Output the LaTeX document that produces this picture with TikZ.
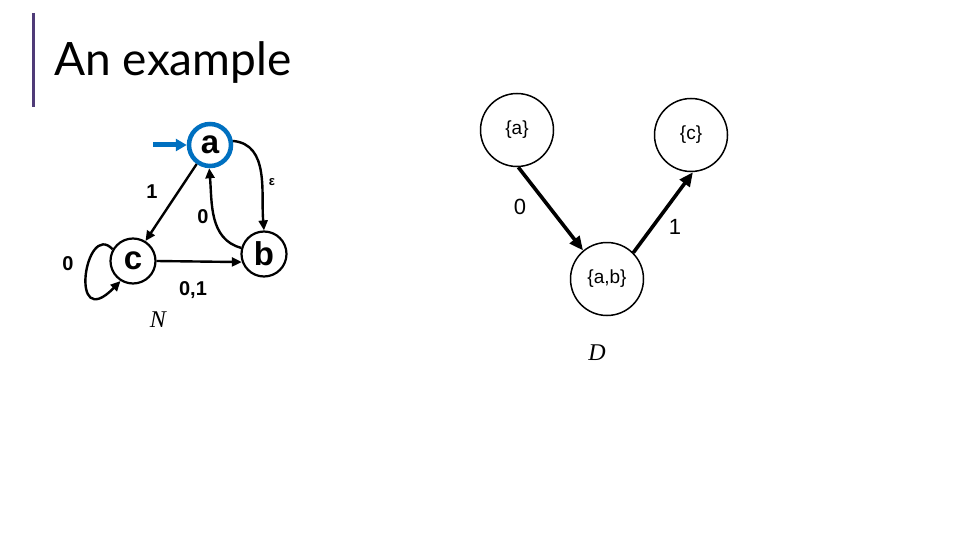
\documentclass[tikz,border=0pt]{standalone}
\usepackage{fontspec}
\setmainfont{Liberation Sans}
\newfontfamily\titlefont{Lato}
\newfontfamily\romanfont{Liberation Serif}
\usetikzlibrary{arrows.meta}
\definecolor{slidepurple}{RGB}{79,59,120}
\definecolor{startblue}{RGB}{0,112,192}
\tikzset{
  nstate/.style = {circle,draw,line width=2.2pt,minimum size=45pt,inner sep=0pt,font=\fontsize{33}{33}\selectfont\bfseries},
  astate/.style = {nstate,draw=startblue,line width=4.5pt,minimum size=42pt},
  dstate/.style = {circle,draw,line width=1.5pt,minimum size=73pt,inner sep=0pt,font=\fontsize{19}{19}\selectfont},
  nedge/.style = {line width=2.4pt,-{Triangle[length=10pt,width=9pt]}},
  dedge/.style = {line width=3.6pt,-{Triangle[length=14pt,width=12pt]}},
  nlabel/.style = {font=\fontsize{20}{20}\selectfont\bfseries},
  dlabel/.style = {font=\fontsize{22}{22}\selectfont},
  machine/.style = {font=\fontsize{24}{24}\selectfont\romanfont\itshape}
}
\begin{document}
\begin{tikzpicture}[x = 1pt,y = 1pt]
	\useasboundingbox[fill=white] (0,0) rectangle (960,-540);
	\draw[slidepurple,line width=3pt] (33,-13) -- (33,-107);
	\node at (51,-76) [anchor=base west,font=\fontsize{46}{46}\selectfont\titlefont] {An example};
	\node (a) at (210,-145) [astate] {a};
	\node (c) at (133,-261) [nstate] {c};
	\node (b) at (264,-254) [nstate] {b};
	\coordinate (start) at (153,-145);
	\draw[startblue,line width=5pt,-{Triangle[length=11pt,width=12pt]}] (start) -- (a.west);
	\draw[nedge] (a.235) -- (c.58);
	\draw[nedge] (a.10) to[out=-5,in=95] (b.north);
	\draw[nedge] (b.165) to[out=165,in=-85] (a.-92);
	\draw[nedge] (c.east) -- (b.200);
	\draw[nedge] (c.150) .. controls (85,-220) and (68,-335) .. (c.238);
	\node at (152,-192) [nlabel] {1};
	\node at (272,-182) [nlabel,font=\fontsize{13}{13}\selectfont\bfseries] {ε};
	\node at (203,-217) [nlabel] {0};
	\node at (68,-264) [nlabel] {0};
	\node at (193,-290) [nlabel] {0,1};
	\node at (158,-320) [machine] {N};
	\node (sa) at (517,-130) [dstate] {\{a\}};
	\node (sc) at (691,-135) [dstate] {\{c\}};
	\node (sab) at (607,-279) [dstate] {\{a,b\}};
	\draw[dedge] (sa.-88) -- (sab.130);
	\draw[dedge] (sab.45) -- (sc.-87);
	\node at (520,-207) [dlabel] {0};
	\node at (675,-227) [dlabel] {1};
	\node at (597,-353) [machine] {D};
\end{tikzpicture}
\end{document}
